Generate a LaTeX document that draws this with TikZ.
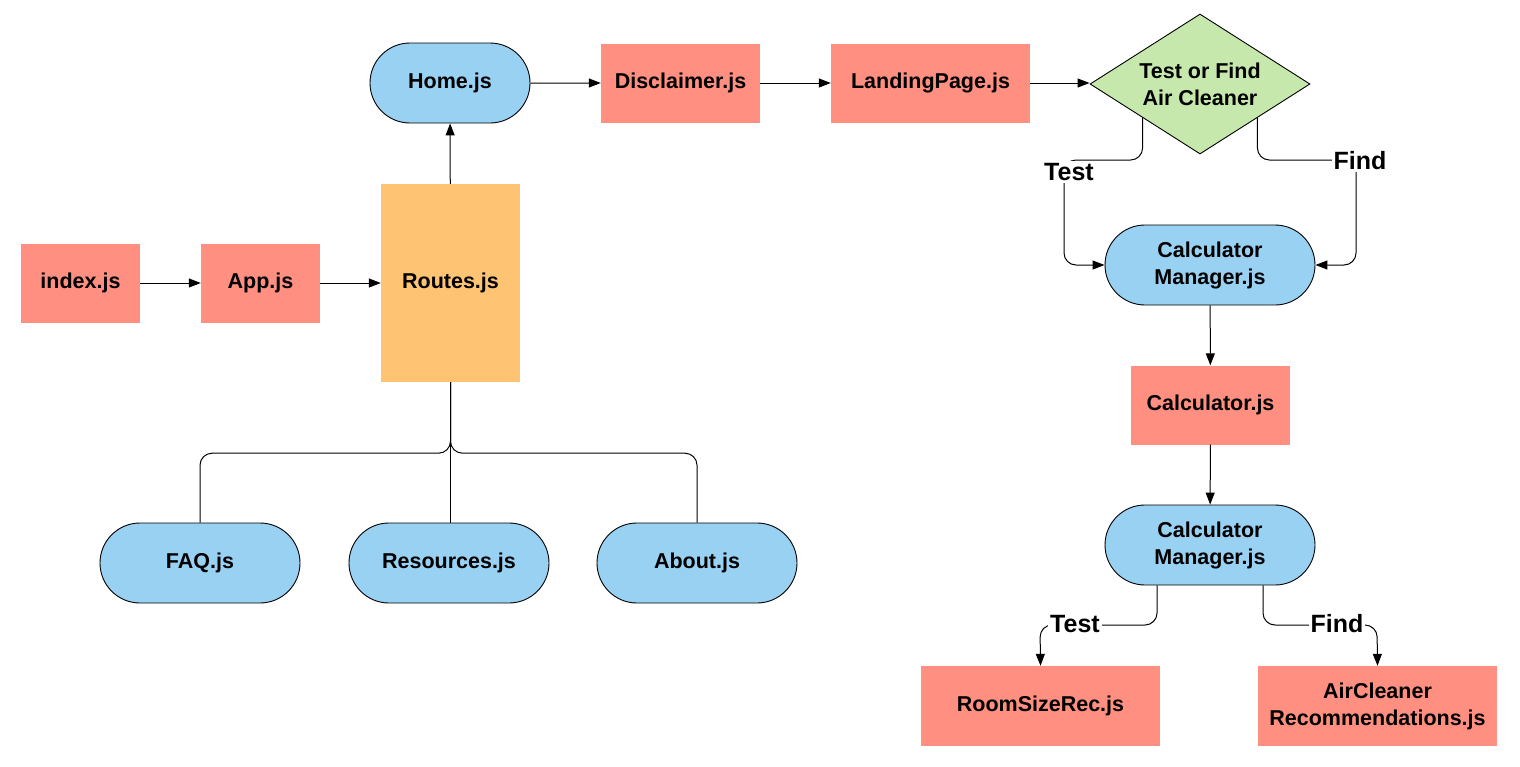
\documentclass[tikz,border=0pt]{standalone}
\usepackage{fontspec}
\setmainfont{Liberation Sans}
\usetikzlibrary{shapes.geometric,shapes.misc,arrows.meta,calc}
\definecolor{salmon}{HTML}{FF8F80}
\definecolor{skyb}{HTML}{99D1F3}
\definecolor{orng}{HTML}{FFC374}
\definecolor{grn}{HTML}{C7E8AC}
\begin{document}
\begin{tikzpicture}[x=1pt,y=-1pt,
  font=\bfseries\fontsize{21.5}{27}\selectfont,
  box/.style={rectangle,fill=salmon,minimum height=79pt,inner sep=0pt,align=center},
  pill/.style={rounded rectangle,draw=black,line width=0.9pt,fill=skyb,minimum height=80pt,inner sep=0pt,align=center},
  conn/.style={line width=1pt,-{Triangle[length=12pt,width=9pt]}},
  line/.style={line width=1pt},
  lbl/.style={fill=white,inner sep=2pt,font=\bfseries\fontsize{25}{29}\selectfont}]
\useasboundingbox (0,0) rectangle (1520,766);
% nodes
\node[box,minimum width=119pt] (idx) at (80.5,283) {index.js};
\node[box,minimum width=119pt] (app) at (260.5,283) {App.js};
\node[rectangle,fill=orng,minimum width=139pt,minimum height=198pt,inner sep=0pt] (rt) at (450.5,283) {Routes.js};
\node[pill,minimum width=160pt] (home) at (450,83) {Home.js};
\node[box,minimum width=159pt] (disc) at (680.5,83) {Disclaimer.js};
\node[box,minimum width=199pt] (land) at (930.5,83) {LandingPage.js};
\node[diamond,draw=black,line width=0.9pt,fill=grn,minimum width=220pt,minimum height=140pt,aspect=1.57,inner sep=0pt,align=center] (dm) at (1200,84) {Test or Find\\Air Cleaner};
\node[pill,minimum width=210pt] (cm1) at (1210,265) {Calculator\\Manager.js};
\node[box,minimum width=159pt] (calc) at (1210.5,405) {Calculator.js};
\node[pill,minimum width=210pt] (cm2) at (1210,545) {Calculator\\Manager.js};
\node[box,minimum width=239pt,minimum height=80pt] (rs) at (1040.5,706) {RoomSizeRec.js};
\node[box,minimum width=239pt,minimum height=80pt] (ac) at (1377.5,706) {AirCleaner\\Recommendations.js};
\node[pill,minimum width=200pt] (faq) at (200,563) {FAQ.js};
\node[pill,minimum width=200pt] (res) at (449,563) {Resources.js};
\node[pill,minimum width=200pt] (ab) at (697,563) {About.js};
% connectors
\draw[conn] (idx) -- (app);
\draw[conn] (app) -- (rt);
\draw[conn] (rt) -- (home);
\draw[conn] (home) -- (disc);
\draw[conn] (disc) -- (land);
\draw[conn] (land.east) -- (land.east -| dm.west);
\draw[line,rounded corners=12pt] (rt.south) -- ++(0,71) -| (faq.north);
\draw[line] (rt.south) -- (rt.south |- res.north);
\draw[line,rounded corners=12pt] (rt.south) -- ++(0,71) -| (ab.north);
\draw[conn,rounded corners=12pt] ($(dm.west)!0.48!(dm.south)$) |- (1064,160) |- (cm1.west);
\draw[conn,rounded corners=12pt] ($(dm.east)!0.48!(dm.south)$) |- (1356,160) |- (cm1.east);
\node[lbl] (lt1) at (1069,172) {Test};
\node[lbl] (lf1) at (1360,161) {Find};
\draw[conn] (cm1) -- (calc);
\draw[conn] (calc) -- (cm2);
\draw[conn,rounded corners=12pt] ([xshift=-53pt]cm2.south) |- (1040,625) -- (rs.north);
\draw[conn,rounded corners=12pt] ([xshift=53pt]cm2.south) |- (1377,625) -- (ac.north);
\node[lbl] (lt2) at (1075,624) {Test};
\node[lbl] (lf2) at (1337,624) {Find};
\end{tikzpicture}
\end{document}
